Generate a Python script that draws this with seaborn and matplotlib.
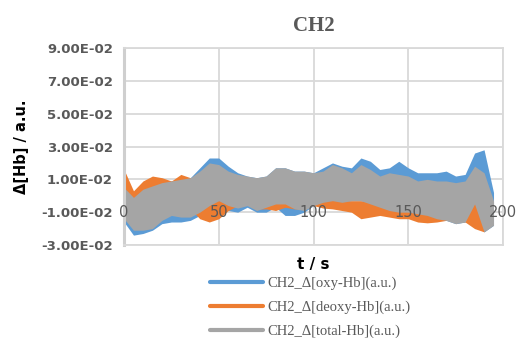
import matplotlib
matplotlib.use("Agg")
import matplotlib.pyplot as plt
from matplotlib.lines import Line2D
import seaborn as sns
import pandas as pd

# ---------------- data (values in units of 1e-2) ----------------
times = [0, 5, 10, 15, 20, 25, 30, 35, 40, 45, 50, 55, 60, 65, 70, 75, 80, 85, 90, 95,
         100, 105, 110, 115, 120, 125, 130, 135, 140, 145, 150, 155, 160, 165, 170, 175,
         180, 185, 190, 195]

oxy_hi = [0.5, -0.1, 0.4, 0.6, 0.8, 0.9, 1.0, 1.1, 1.7, 2.3, 2.3, 1.8, 1.4, 1.2, 1.1, 1.2,
          1.7, 1.7, 1.5, 1.5, 1.4, 1.7, 2.0, 1.8, 1.7, 2.3, 2.1, 1.6, 1.7, 2.1, 1.7, 1.4,
          1.4, 1.4, 1.5, 1.2, 1.3, 2.6, 2.8, 0.2]
oxy_lo = [-1.6, -2.4, -2.3, -2.1, -1.7, -1.6, -1.6, -1.5, -1.2, -0.6, -0.4, -0.9, -1.0,
          -0.7, -1.0, -1.0, -0.7, -1.2, -1.2, -1.0, -0.6, -0.4, -0.3, -0.4, -0.3, -0.3,
          -0.5, -0.7, -0.9, -1.0, -1.0, -1.1, -1.2, -1.4, -1.5, -1.7, -1.6, -0.5, -2.2, -1.8]

deoxy_hi = [1.6, 0.3, 0.9, 1.2, 1.1, 0.9, 1.3, 1.1, 0.5, -0.1, -0.3, -0.2, 0.2, 0.5, 1.1,
            0.8, -0.2, 0.4, 0.6, 0.4, -0.2, -0.3, -0.2, -0.3, -0.3, -0.3, -0.4, -0.4,
            -0.5, -0.5, -0.6, -0.6, -0.6, -0.7, -0.7, -0.8, -0.8, -0.4, -0.6, -0.4]
deoxy_lo = [-0.3, -0.6, -0.9, -0.9, -0.8, -0.6, -0.7, -0.8, -1.4, -1.6, -1.4, -0.9, -0.6,
            -0.5, -0.8, -0.8, -0.9, -0.7, -0.8, -0.8, -0.6, -0.75, -0.8, -0.9, -1.0, -1.4,
            -1.3, -1.2, -1.3, -1.4, -1.4, -1.6, -1.65, -1.6, -1.5, -1.5, -1.6, -2.0, -2.2, -0.9]

total_hi = [0.5, -0.1, 0.4, 0.6, 0.8, 0.9, 1.0, 1.1, 1.5, 2.0, 1.9, 1.5, 1.3, 1.2, 1.1, 1.2,
            1.7, 1.7, 1.5, 1.5, 1.4, 1.5, 1.9, 1.7, 1.4, 1.9, 1.6, 1.2, 1.4, 1.3, 1.2, 0.9,
            1.0, 0.9, 0.9, 0.8, 0.9, 1.8, 1.4, -0.3]
total_lo = [-1.4, -2.1, -2.1, -2.0, -1.5, -1.2, -1.3, -1.3, -1.0, -0.6, -0.3, -0.6, -0.75,
            -0.6, -0.9, -0.7, -0.5, -0.5, -0.8, -0.9, -0.6, -0.4, -0.3, -0.4, -0.3, -0.3,
            -0.5, -0.7, -0.9, -1.0, -1.0, -1.1, -1.2, -1.4, -1.5, -1.7, -1.6, -0.5, -2.2, -1.8]

series_names = ["CH2_\u0394[oxy-Hb](a.u.)", "CH2_\u0394[deoxy-Hb](a.u.)", "CH2_\u0394[total-Hb](a.u.)"]
series_colors = ["#5B9BD5", "#ED7D31", "#A5A5A5"]
UNIT = 1e-2

x_ticks = [0, 50, 100, 150, 200]
x_tick_labels = ["0", "50", "100", "150", "200"]
y_ticks = [-0.03, -0.01, 0.01, 0.03, 0.05, 0.07, 0.09]
y_tick_labels = ["-3.00E-02", "-1.00E-02", "1.00E-02", "3.00E-02", "5.00E-02", "7.00E-02", "9.00E-02"]

title = "CH2"
x_label = "t / s"
y_label = "\u0394[Hb] / a.u."

# ---------------- build long-form table ----------------
rows = []
for name, hi, lo in zip(series_names,
                        [oxy_hi, deoxy_hi, total_hi],
                        [oxy_lo, deoxy_lo, total_lo]):
    for t, h, l in zip(times, hi, lo):
        rows.append({"t": t, "value": h * UNIT, "series": name})
        rows.append({"t": t, "value": l * UNIT, "series": name})
df = pd.DataFrame(rows)

# ---------------- plot ----------------
sns.set_theme(style="white")
plt.rcParams["font.family"] = ["DejaVu Sans"]

fig = plt.figure(figsize=(5.19, 3.38), dpi=100)
ax = fig.add_axes([124 / 519, 1 - 245 / 338, (503 - 124) / 519, (245 - 48) / 338])

sns.lineplot(data=df, x="t", y="value", hue="series", hue_order=series_names,
             palette=series_colors, estimator="mean",
             errorbar=lambda v: (v.min(), v.max()),
             err_kws={"alpha": 1, "linewidth": 0},
             linewidth=0.5, ax=ax, legend=False)

# bands drawn opaque, stacked in series order; hide the centre lines
for i, coll in enumerate(ax.collections):
    coll.set_alpha(1)
    coll.set_zorder(2 + i * 0.1)
for ln in ax.lines:
    ln.set_visible(False)

ax.set_xlim(0, 200)
ax.set_ylim(-0.03, 0.09)
ax.set_axisbelow(True)
ax.grid(True, color="#d9d9d9", linewidth=1.3)
for side, sp in ax.spines.items():
    sp.set_visible(True)
    sp.set_color("#d9d9d9")
    sp.set_linewidth(1.3)
ax.spines["left"].set_linewidth(2.2)
ax.spines["left"].set_color("#cfcfcf")

ax.set_xticks(x_ticks)
ax.set_xticklabels([])
ax.set_yticks(y_ticks)
ax.set_yticklabels(y_tick_labels, fontweight="bold", color="#595959", fontsize=9.5)
ax.tick_params(axis="both", length=0)
ax.tick_params(axis="y", pad=8)

for t, lab in zip(x_ticks, x_tick_labels):
    ax.text(t, -0.0105, lab, ha="center", va="center", fontsize=10.5,
            color="#595959", zorder=10)

ax.set_title(title, fontfamily="Liberation Serif", fontweight="bold", fontsize=15,
             color="#595959", pad=12)
ax.set_xlabel(x_label, fontweight="bold", fontsize=11, color="black", labelpad=5)
ax.set_ylabel(y_label, fontweight="bold", fontsize=10.5, color="black", labelpad=9)

handles = [Line2D([0], [0], color=c, linewidth=3, solid_capstyle="round") for c in series_colors]
leg = fig.legend(handles, series_names, loc="upper left",
                 bbox_to_anchor=(210 / 519, 1 - 277 / 338),
                 frameon=False, borderpad=0, borderaxespad=0, handlelength=3.6,
                 handletextpad=0.35, labelspacing=0.7,
                 prop={"family": "Liberation Serif", "size": 10.5})
for txt in leg.get_texts():
    txt.set_color("#595959")

fig.savefig("out.png", dpi=100)
